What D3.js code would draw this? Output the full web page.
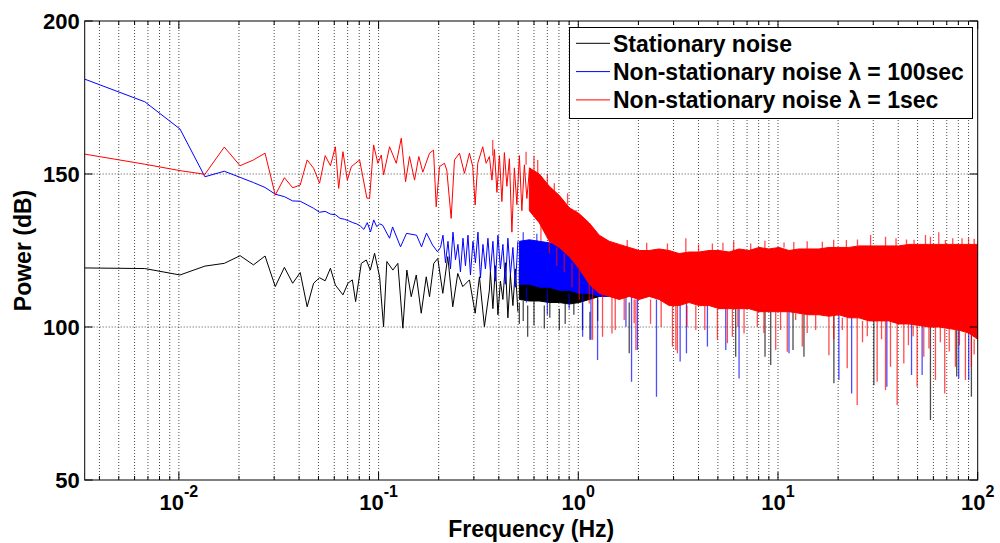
<!DOCTYPE html>
<html>
<head>
<meta charset="utf-8">
<script src="https://cdn.jsdelivr.net/npm/d3@7"></script>
<style>html,body{margin:0;background:#fff}</style>
</head>
<body>
<div id="chart"></div>
<script>
// ---- data (freq in Hz, power in dB) ---------------------------------------
const yTicks = [50, 100, 150, 200];
const seriesNames = ["Stationary noise", "Non-stationary noise \u03bb = 100sec", "Non-stationary noise \u03bb = 1sec"];
const seriesColors = ["#000000", "#0000ff", "#ff0000"];

// low-frequency part, where single points are still visible
const stationaryLine = [[0.003376,119.3],[0.006752,119.1],[0.01013,117.0],[0.0135,119.9],[0.01688,120.8],[0.02026,123.3],[0.02363,120.3],[0.02701,123.2],[0.03038,113.2],[0.03376,119.5],[0.03714,114.3],[0.04051,117.8],[0.04389,106.6],[0.04726,114.3],[0.05064,116.1],[0.05402,115.1],[0.05739,119.2],[0.06077,113.7],[0.0663,110.5],[0.07023,114.3],[0.07389,115.4],[0.07674,108.3],[0.08194,120.8],[0.0868,121.9],[0.09089,118.6],[0.0955,124.1],[0.1012,116.4],[0.1059,100.1],[0.11,121.4],[0.1179,118.6],[0.1249,120.8],[0.1323,99.6],[0.1385,118.6],[0.1457,109.9],[0.1544,117.0],[0.1635,104.5],[0.1732,116.4],[0.1799,109.9],[0.189,120.8],[0.1979,122.4],[0.2097,111.0],[0.2221,123.0],[0.2352,106.6],[0.2492,117.5],[0.2639,113.2],[0.2851,115.4],[0.3045,104.5],[0.3199,116.4],[0.3388,100.1],[0.3589,112.1],[0.3631,118],[0.3737,106],[0.3846,120],[0.3959,104],[0.4074,115],[0.4193,109],[0.4315,121],[0.4441,103],[0.4571,117],[0.4705,107],[0.4842,119],[0.4983,105]];
const slowLine = [[0.003376,181.0],[0.006752,173.6],[0.01013,164.7],[0.0135,149.1],[0.01688,150.9],[0.02026,148.9],[0.02363,147.2],[0.02701,145.6],[0.03038,143.4],[0.03376,142.6],[0.03714,141.2],[0.04051,141.1],[0.04389,139.9],[0.04726,138.8],[0.05064,137.5],[0.05402,137.8],[0.05739,136.9],[0.06077,136.7],[0.06414,135.5],[0.06752,135.2],[0.0709,134.7],[0.07427,134.1],[0.07765,133.7],[0.08102,133.0],[0.0844,131.9],[0.08778,134.1],[0.09115,131.1],[0.09453,135.0],[0.0979,132.8],[0.1013,133.7],[0.1047,133.3],[0.1135,129.0],[0.1175,132.7],[0.1288,126.2],[0.138,130.6],[0.1549,130.0],[0.1641,126.2],[0.1738,130.7],[0.1862,126.8],[0.1972,124.6],[0.2042,126],[0.2101,130],[0.2163,121],[0.2226,128],[0.2291,119],[0.2358,131],[0.2427,122],[0.2497,127],[0.257,118],[0.2646,129],[0.2723,120],[0.2803,130],[0.2884,117],[0.2969,128],[0.3055,121],[0.3145,131],[0.3236,116],[0.3331,127],[0.3428,119],[0.3528,129],[0.3631,118],[0.3737,128],[0.3846,115],[0.3959,130],[0.4074,119],[0.4193,127],[0.4315,114],[0.4441,129],[0.4571,117],[0.4705,126],[0.4842,113],[0.4983,128]];
const fastLine = [[0.003376,156.5],[0.006752,153.2],[0.01013,151.1],[0.0135,149.9],[0.01688,158.8],[0.02026,152.7],[0.02363,154.6],[0.02701,156.8],[0.03038,143.1],[0.03376,148.8],[0.03714,145.5],[0.04051,146.4],[0.04389,154.6],[0.04726,151.9],[0.05064,147.0],[0.05402,156.0],[0.05739,152.7],[0.06077,158.9],[0.0631,145.3],[0.0663,157.3],[0.06975,148.0],[0.07304,152.4],[0.08035,154.6],[0.0874,142.1],[0.09016,142.1],[0.09441,159.5],[0.0992,153.5],[0.1032,156.2],[0.1059,149.7],[0.1135,158.9],[0.1226,153.5],[0.1299,161.7],[0.1365,147.5],[0.1429,155.7],[0.1514,148.0],[0.159,155.7],[0.1665,150.6],[0.1799,156.8],[0.1884,157.8],[0.1943,139.3],[0.2018,152.4],[0.2138,153.5],[0.2195,151.3],[0.2309,135.5],[0.2399,154.6],[0.2541,156.8],[0.2692,150.2],[0.2851,156.8],[0.2962,152.4],[0.3045,139.9],[0.3137,153.5],[0.3323,158.9],[0.3456,153.5],[0.3589,155.7],[0.3695,148],[0.3802,158],[0.3913,144],[0.4027,156],[0.4144,141],[0.4266,157],[0.439,146],[0.4519,155],[0.4651,131],[0.4786,152],[0.4926,140],[0.507,156],[0.5218,138],[0.537,153],[0.5527,142],[0.5689,151]];

// dense part: envelope of the trace (low / high dB) at these frequencies
const bandFreq = [0.2018,0.2265,0.2541,0.2851,0.3199,0.3589,0.4027,0.4519,0.507,0.5689,0.6383,0.7161,0.8035,0.9016,1.0116,1.135,1.2735,1.4289,1.6032,1.7989,2.0184,2.2646,2.541,2.851,3.199,3.589,4.027,4.519,5.07,5.689,6.383,7.161,8.035,9.016,10.116,11.35,12.735,14.29,16.03,17.99,20.18,22.65,25.41,28.51,31.99,35.89,40.27,45.19,50.7,56.89,63.83,71.61,80.35,90.16,100];
const stationaryHi = [null,null,null,null,null,null,null,null,119,119,119,119,119,119,119,119,119,119,119,121.5,121.5,121.5,121.5,121,121,121,121,121.5,121.5,121.5,122,122,122,122.5,122.5,122,122,122,122.5,122.5,122.5,123,123,123,123,123,123.5,123.5,123.5,123.5,124,124,124,124,124];
const stationaryLo = [null,null,null,null,null,null,null,null,109,108.5,108.5,108,108,107.5,108,109,110,110.5,110.5,111.5,110.5,111.5,110.5,108.5,108.5,109.5,108.5,108.5,107.5,107.5,107.5,107.5,106.5,106.5,106.5,106.5,106,105.5,105.5,105,105.5,104.5,104.5,103.5,103.5,103.5,102.5,102.5,102,101.5,101.5,101,100.5,99.5,97.5];
const slowHi = [null,null,null,null,null,null,null,null,128,128.5,128,127.5,127,126.5,126,125.5,125,125,125,124.5,124,124,124.5,124,123.5,123.5,123.5,124,124,124,124.5,124.5,125,125,125,124.5,124.5,124.5,124.5,125,125,125.5,125.5,125.5,125.5,125.5,125.5,126,126,126,126,126,126,126,126];
const slowLo = [null,null,null,null,null,null,null,null,114,114,113,113,112,112,111,111,110,110,110,111,110,111,110,108,108,109,108,108,107,107,107,107,106,106,106,106,105.5,105,105,104.5,105,104,104,103,103,103,102,102,101.5,101,101,100.5,100,99,97];
const fastHi = [null,null,null,null,null,null,null,null,null,152,150,146,143,139,137,134,130,128,127,126,125,125,125.5,125,124,124.5,124.5,125,125,124.5,125.5,125,126,125.5,126,125,125.5,125.5,125.5,126,126,126,126.5,126.5,126.5,126.5,126.5,127,127,127,127,127,127,127,127];
const fastLo = [null,null,null,null,null,null,null,null,null,138,134,128,126,123,119,114,111,110,109,110,109,110,109,107,107,108,107,107,106,106,106,106,105,105,105,105,104.5,104,104,103.5,104,103,103,102,102,102,101,101,100.5,100,100,99.5,99,98,96];

// single spikes sticking out of the envelope: [freq, from dB, to dB]
const stationarySpikes = [[0.507,108,101],[0.53,108.5,102],[0.5578,107,96.8],[0.6,108.5,100.5],[0.676,107,99.5],[0.72,108,103],[0.8035,106,99.0],[0.86,107.5,101],[0.95,107.5,104],[1.05,108,99],[1.144,105,95.8],[1.25,110,102],[1.799,108,91.4],[6.14,107,90.3],[8.61,106,90.3],[9.195,106,87.6],[11.89,105,92.5],[13.49,105,90.3],[19.05,105,81.6],[30.2,103,81.0],[58.0,101,69.6],[78.52,100,83.8],[93.0,99,77.2]];
const slowSpikes = [[0.55,113,108],[0.7,112,104],[0.9,111,106],[1.051,111,96.8],[1.157,110,95.8],[1.249,109,89.2],[1.732,110,100.1],[1.848,110,82.1],[1.979,110,92.5],[2.463,109,77.2],[3.236,108,88.7],[3.48,108,91.4],[4.432,108,93.6],[5.476,107,92.5],[6.383,107,83.2],[11.35,106,91.4],[20.18,104,82.7],[23.37,104,78.3],[35.08,102,80.5],[46.63,101,84.3],[52.69,101,84.3],[80.35,99,83.2],[90.16,98,82.7],
  [0.53,128,131],[0.62,128,130.5],[0.75,127,130],[0.88,126,129],[1.1,125.5,127.5]];
const fastSpikes = [[0.65,134,128],[0.7161,128,124.1],[0.78,126,120],[0.85,124,118],[0.93,121,113],[1.0116,119,108.8],[1.135,114,107.7],[1.179,113,95.8],[1.3226,111,96.8],[1.4743,110,97.9],[1.531,110,99],[1.698,110,102.3],[1.905,109,101.2],[1.943,109,92.5],[2.3,109,101],[2.6,109,100],[2.962,107,93.6],[3.08,107,92.5],[3.137,107,91.4],[3.5,107,100],[3.877,107,99],[4.3,107,99],[4.973,106,95.8],[5.58,106,94.7],[5.91,106,96.8],[6.3,106,100],[6.761,106,97.9],[7.88,105,100.1],[8.5,105,98],[9.739,105,92.5],[10.3,105,99],[11.13,105,91.9],[12.26,104.5,102.3],[13.23,104.5,93.6],[14,104,98],[15.44,104,99],[17.99,103.5,90.8],[19,103.5,96],[21,103,99],[22.21,103,86.5],[24.92,103,74.5],[26.5,102,95],[28,102,97],[31.37,102,82.1],[33,102,96],[34.55,102,79.4],[36.59,102,87],[39.5,101,74.5],[42.66,101,88.1],[45,101,94],[47.5,100.5,97],[49.73,100.5,80.5],[53.7,100,90.3],[57,100,93],[61.44,100,82.7],[65,100,95],[68.39,99.5,78.3],[72,99.5,92],[77.36,99,87],[81,99,94],[86.79,98,82.7],[93.0,97,87],[96,96,91],
  [0.3728,156,161.1],[0.5477,153,157.3],[0.6,150,156],[0.6262,150,154.6],[0.7,147,150],[0.7586,144,147],[0.8841,140,143.7],[0.9739,137,138.2],[1.758,126,128.4],[2.2,125,127.5],[2.796,125,127.3],[3.456,124.5,129],[4.0,124.5,127],[4.693,125,127.3],[5.3,125,127.5],[6.0,125,128],[7.3,125,127.3],[8.6,125.5,128.2],[10.72,126,127.6],[12,125,127.8],[14,125.5,128],[16.67,125.5,127.9],[19,126,128.5],[22,126,128.4],[25,126.5,128.6],[29.08,126.5,130.1],[34.55,126.5,129.5],[39,126.5,129],[44,127,128.6],[48,127,128.5],[54.76,127,130.1],[58,127,129.5],[63.83,127,131],[68.94,127,128.4],[75,127,129],[83.46,127,129],[90,127,129.2],[96,127,128.8]];

const series = [
  { line: stationaryLine, hi: stationaryHi, lo: stationaryLo, spikes: stationarySpikes },
  { line: slowLine,       hi: slowHi,       lo: slowLo,       spikes: slowSpikes },
  { line: fastLine,       hi: fastHi,       lo: fastLo,       spikes: fastSpikes }
];

// ---- layout ---------------------------------------------------------------
const W = 1000, H = 543;
const plot = { left: 84.7, right: 977.7, top: 21, bottom: 480 };
const FONT = "'Liberation Sans', Arial, sans-serif";

const x = d3.scaleLog([0.003376, 100], [plot.left, plot.right]);
const y = d3.scaleLinear([50, 200], [plot.bottom, plot.top]);

const svg = d3.select("#chart").append("svg")
  .attr("width", W).attr("height", H)
  .attr("font-family", FONT).attr("font-weight", "bold");

svg.append("defs").append("clipPath").attr("id", "plotclip")
  .append("rect")
  .attr("x", plot.left).attr("y", plot.top)
  .attr("width", plot.right - plot.left).attr("height", plot.bottom - plot.top);

// --- grid (dotted, under the data) -----------------------------------------
const xTicks = x.ticks();           // 4e-3 .. 100, every 1..9 x decade
const isDecade = v => Math.abs(Math.log10(v) - Math.round(Math.log10(v))) < 1e-9;
const grid = svg.append("g").attr("stroke", "#000").attr("stroke-opacity", 0.7)
  .attr("stroke-dasharray", "1,2").attr("stroke-width", 1);
grid.selectAll("line.vx").data(xTicks.filter(v => v < 100)).join("line")
  .attr("x1", d => x(d)).attr("x2", d => x(d))
  .attr("y1", plot.top).attr("y2", plot.bottom);
grid.selectAll("line.hy").data(yTicks.filter(v => v > 50 && v < 200)).join("line")
  .attr("x1", plot.left).attr("x2", plot.right)
  .attr("y1", d => y(d)).attr("y2", d => y(d));

// --- traces ----------------------------------------------------------------
const data = svg.append("g").attr("clip-path", "url(#plotclip)");
const line = d3.line().x(d => x(d[0])).y(d => y(d[1]));

series.forEach((s, k) => {
  const c = seriesColors[k];
  const g = data.append("g");
  const area = d3.area()
    .defined(i => s.lo[i] != null)
    .x(i => x(bandFreq[i]))
    .y0(i => y(s.lo[i]))
    .y1(i => y(s.hi[i]));
  g.append("path").attr("d", line(s.line))
    .attr("fill", "none").attr("stroke", c).attr("stroke-width", 1);
  g.append("path").attr("d", area(d3.range(bandFreq.length)))
    .attr("fill", c).attr("stroke", c).attr("stroke-width", 1).attr("stroke-linejoin", "bevel");
  g.selectAll("line").data(s.spikes).join("line")
    .attr("x1", d => x(d[0])).attr("x2", d => x(d[0]))
    .attr("y1", d => y(d[1])).attr("y2", d => y(d[2]))
    .attr("stroke", c).attr("stroke-width", 1.3).attr("stroke-opacity", 0.7);
});

// --- axes box + inward ticks ---------------------------------------------
const ax = svg.append("g").attr("stroke", "#000").attr("stroke-width", 1);
xTicks.forEach(v => {
  const len = isDecade(v) ? 8 : 4;
  ax.append("line").attr("x1", x(v)).attr("x2", x(v)).attr("y1", plot.bottom).attr("y2", plot.bottom - len);
  ax.append("line").attr("x1", x(v)).attr("x2", x(v)).attr("y1", plot.top).attr("y2", plot.top + len);
});
yTicks.forEach(v => {
  ax.append("line").attr("x1", plot.left).attr("x2", plot.left + 8).attr("y1", y(v)).attr("y2", y(v));
  ax.append("line").attr("x1", plot.right).attr("x2", plot.right - 8).attr("y1", y(v)).attr("y2", y(v));
});
ax.append("rect").attr("x", plot.left).attr("y", plot.top)
  .attr("width", plot.right - plot.left).attr("height", plot.bottom - plot.top)
  .attr("fill", "none");

// tick labels
svg.append("g").attr("font-size", 22).attr("text-anchor", "end")
  .selectAll("text").data(yTicks).join("text")
  .attr("x", plot.left - 5).attr("y", d => y(d) + 8).text(d => d);

const xl = svg.append("g").selectAll("text").data(xTicks.filter(isDecade)).join("text")
  .attr("x", d => x(d)).attr("y", 510).attr("text-anchor", "middle").attr("font-size", 22);
xl.append("tspan").text("10");
xl.append("tspan").attr("font-size", 16).attr("dy", -13).text(d => Math.round(Math.log10(d)));

// axis titles
svg.append("text").attr("x", (plot.left + plot.right) / 2).attr("y", 537)
  .attr("text-anchor", "middle").attr("font-size", 23).text("Frequency (Hz)");
svg.append("text").attr("transform", `translate(31,${(plot.top + plot.bottom) / 2}) rotate(-90)`)
  .attr("text-anchor", "middle").attr("font-size", 23).text("Power (dB)");

// --- legend ----------------------------------------------------------------
const lg = svg.append("g");
lg.append("rect").attr("x", 569.5).attr("y", 27.5).attr("width", 403).attr("height", 91)
  .attr("fill", "#fff").attr("stroke", "#000").attr("stroke-width", 1);
seriesNames.forEach((name, i) => {
  const ly = 43.3 + i * 28.3;
  lg.append("line").attr("x1", 576).attr("x2", 610).attr("y1", ly).attr("y2", ly)
    .attr("stroke", seriesColors[i]).attr("stroke-width", 1);
  lg.append("text").attr("x", 613).attr("y", ly + 8.3).attr("font-size", 23).text(name);
});
</script>
</body>
</html>
